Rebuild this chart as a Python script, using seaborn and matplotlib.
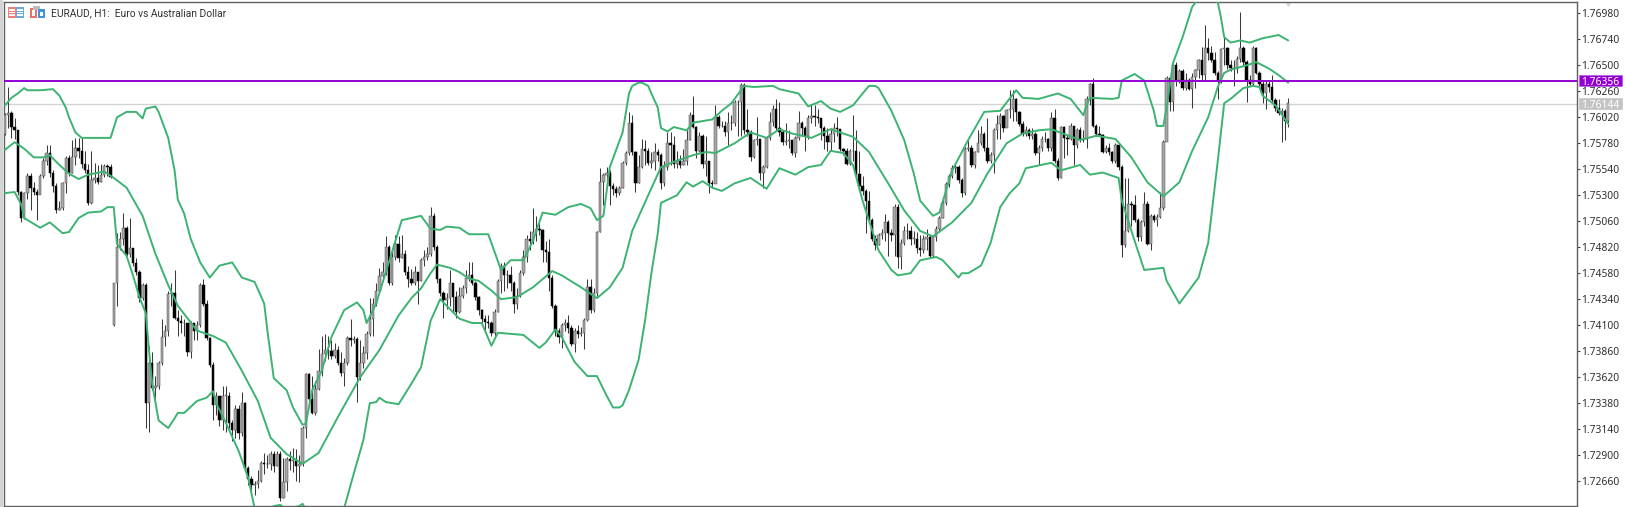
import matplotlib
matplotlib.use("Agg")
import matplotlib.pyplot as plt
from matplotlib.patches import Rectangle
from matplotlib.transforms import blended_transform_factory
import numpy as np
import pandas as pd
import seaborn as sns

# All price arrays are in 1e-4 above 1.70000 (e.g. 636 = 1.7636)
first_open = 587
gap_opens = {34: 410}

closes = [
604,606,593,590,533,509,532,548,537,533,530,548,562,569,551,539,516,518,541,564,
551,565,574,571,559,553,523,544,546,542,549,557,556,547,449,482,490,500,476,481,
467,459,435,447,338,375,352,354,375,399,405,439,440,417,414,412,412,385,412,405,
410,447,430,398,373,336,345,322,345,345,320,313,333,310,338,278,268,262,263,266,
283,282,282,291,280,291,250,265,286,285,285,280,282,315,365,342,329,351,368,383,
387,386,382,387,375,366,375,398,396,397,362,375,384,402,416,430,442,455,459,482,
449,473,485,472,476,459,453,449,459,451,470,473,476,511,482,453,440,433,435,449,
436,422,437,444,454,456,449,436,424,416,413,412,403,422,451,465,456,456,449,430,
437,458,473,490,488,496,499,498,479,478,454,428,405,399,410,412,407,393,405,402,
403,415,445,424,440,496,542,549,551,539,536,532,537,560,569,597,570,541,556,573,
571,560,562,570,567,541,556,578,576,559,562,558,562,581,604,593,571,585,559,562,
541,540,602,594,594,588,597,597,616,616,632,590,588,565,581,582,551,556,583,598,
610,592,588,579,580,581,569,583,597,592,585,601,603,602,601,592,585,579,587,592,
591,573,571,559,571,571,550,539,534,525,507,490,484,493,495,505,495,493,519,473,
486,497,497,490,490,481,479,490,491,474,491,499,509,523,540,548,555,556,544,532,
573,574,558,570,578,587,574,562,567,590,596,603,592,609,610,619,607,596,587,590,
585,587,569,574,582,582,574,601,562,546,593,583,582,594,576,590,581,582,619,633,
594,587,586,570,574,570,562,576,556,484,497,522,521,507,491,505,522,485,511,507,
510,518,579,638,616,650,636,645,629,636,628,639,646,655,641,666,661,655,643,636,
665,666,650,648,647,656,666,653,636,633,666,643,633,624,633,630,618,611,606,608,
599,615]

highs = [
606,630,608,601,590,534,533,551,551,542,536,550,564,576,576,553,541,525,542,566,
567,581,583,583,583,571,559,571,560,558,559,559,559,559,449,495,496,514,502,509,
481,472,461,449,449,391,385,363,377,416,410,442,449,461,424,419,416,412,414,412,
414,449,453,433,399,376,348,345,354,354,348,322,336,336,348,339,280,271,266,276,
285,292,290,294,294,294,294,287,288,294,297,296,290,317,366,366,363,358,388,400,
402,400,396,394,391,385,380,400,416,400,399,396,391,405,435,435,449,463,468,492,
484,479,493,492,493,479,465,462,465,459,472,479,482,519,514,484,454,442,440,461,
449,442,445,447,461,468,468,451,437,425,419,419,414,425,453,467,468,461,465,451,
444,461,479,493,497,518,511,505,499,488,490,456,430,407,412,416,419,410,407,410,
408,417,453,453,444,497,555,551,556,553,541,539,539,562,571,607,604,571,567,582,
581,574,570,578,573,569,562,588,588,585,571,567,573,590,607,622,594,588,587,585,
562,544,613,604,599,599,607,604,618,618,634,634,610,590,582,602,582,558,585,607,
613,619,616,590,597,590,581,585,608,599,594,604,613,613,610,601,594,592,592,597,
602,590,574,574,573,604,590,571,548,536,534,509,493,495,499,513,507,499,522,522,
490,502,504,502,497,496,493,493,499,493,493,502,511,527,542,550,558,559,558,546,
575,581,576,571,590,594,588,601,570,592,604,606,604,610,627,627,620,608,599,594,
592,592,588,576,585,588,583,607,610,564,594,594,587,597,594,592,593,590,622,634,
638,596,594,587,576,578,571,578,578,558,546,546,525,530,509,507,533,525,513,513,
513,533,581,640,638,652,653,647,647,643,638,643,647,656,667,687,675,668,662,645,
666,678,667,655,655,659,699,668,655,641,668,667,645,636,636,636,641,620,619,611,
610,620]

lows = [
586,592,583,582,530,505,508,527,516,530,507,534,546,558,547,533,514,516,516,532,
548,551,558,564,555,551,521,522,541,540,542,547,548,546,409,428,479,484,474,473,
465,456,431,433,315,311,350,342,351,373,391,400,428,416,400,403,400,382,380,396,
396,408,428,396,371,322,327,317,313,311,315,303,306,305,308,276,262,257,253,260,
265,273,278,276,274,280,248,250,257,276,274,266,265,280,306,340,328,327,350,363,
377,379,379,380,373,363,354,373,391,394,339,359,370,379,400,400,428,442,451,456,
447,447,470,468,472,456,445,447,447,430,451,465,470,474,479,449,437,417,425,428,
422,417,421,435,440,451,447,433,419,410,403,407,400,400,422,440,442,444,442,421,
425,436,456,468,479,485,488,493,468,468,442,426,400,394,389,405,403,391,385,398,
400,388,414,421,422,437,496,521,537,521,530,528,530,537,558,567,567,533,541,555,
558,558,555,553,562,536,539,553,558,555,555,555,558,558,581,592,564,570,555,548,
532,537,541,592,593,585,576,590,594,585,585,587,585,562,564,576,544,537,555,581,
594,590,585,576,576,574,567,565,581,585,571,582,597,594,597,581,573,571,571,579,
585,571,567,558,558,562,546,537,530,495,505,488,479,484,490,488,474,488,474,463,
462,484,490,484,485,477,474,477,479,473,473,488,497,509,521,538,546,551,541,528,
530,571,556,555,570,576,571,560,560,551,582,582,588,594,601,599,599,594,585,585,
582,582,567,558,571,579,571,571,560,544,546,564,567,581,558,574,579,579,574,613,
593,585,585,569,569,567,560,560,553,473,482,496,502,505,488,488,502,484,479,505,
502,509,516,581,608,608,631,634,627,627,627,611,629,638,636,636,655,653,641,619,
634,650,647,645,631,643,653,650,616,631,631,642,629,615,610,625,616,608,604,579,
581,593]

upper_bars = [0,2,4,6,7,11,15,17,19,20,22,24,33,35,38,41,43,44,47,48,51,53,54,56,58,61,64,67,71,74,78,81,82,84,88,90,93,94,96,99,102,106,110,112,113,116,122,124,130,133,136,138,142,145,151,152,155,158,162,165,168,172,176,180,183,185,187,189,193,195,196,198,199,201,202,204,205,207,209,213,215,221,224,227,231,234,240,242,248,251,255,258,261,265,268,270,272,273,277,281,284,286,290,292,296,301,306,311,316,318,323,329,333,337,338,339,346,348,349,353,356,359,360,362,363,365,368,371,375,379,380,381,383,386,389,393,398,401]
upper_vals = [613,620,624,629,627,627,628,622,611,602,588,583,583,602,607,607,601,610,612,607,583,553,526,513,490,468,454,465,468,454,450,430,405,361,350,334,318,319,350,368,399,424,431,424,412,430,488,507,511,499,498,501,500,494,494,486,461,470,470,488,514,512,519,522,518,507,511,556,588,624,631,634,634,631,624,611,592,589,593,590,597,600,608,615,631,630,631,628,624,612,617,610,607,613,624,631,631,629,608,581,550,525,511,514,553,581,607,608,627,620,619,624,619,604,613,620,619,620,636,642,636,608,594,594,611,652,676,704,720,708,694,676,671,673,671,675,678,673]

mid_bars = [0,3,6,9,12,14,17,20,23,26,31,34,38,43,47,51,54,60,65,69,74,79,83,88,93,98,104,111,117,123,127,130,133,135,139,142,145,148,152,155,160,165,171,174,180,185,189,193,196,201,205,210,215,219,222,228,233,238,242,246,252,255,258,265,270,276,281,286,290,296,302,307,313,318,323,327,336,341,347,352,357,362,367,371,376,379,381,383,388,391,395,398,401]
mid_vals = [572,579,573,565,565,567,558,550,545,549,552,546,537,511,476,447,428,405,400,394,368,340,306,291,282,292,325,362,387,419,435,444,458,466,463,459,453,451,442,434,436,445,460,456,445,435,445,463,497,530,556,562,567,570,569,578,588,583,591,587,583,587,591,584,570,541,516,497,492,505,523,550,578,587,590,591,581,585,582,565,542,529,542,571,602,630,643,646,650,653,647,641,634]

lower_bars = [0,3,5,6,11,14,18,20,23,26,30,32,34,35,38,40,42,44,45,46,48,51,53,54,56,60,63,65,66,69,73,76,78,80,84,86,88,92,93,94,100,106,109,112,114,116,117,119,123,127,130,133,136,139,142,146,149,152,154,162,167,169,172,174,178,182,185,188,190,192,193,195,198,200,202,204,205,210,213,215,218,221,224,228,233,238,242,247,251,255,258,262,265,268,273,277,279,283,286,291,293,298,299,301,305,308,311,314,317,319,327,330,336,339,343,348,349,353,356,362,363,367,373,376,379,381,383,387,390,392,393,397,401]
lower_vals = [532,533,522,509,500,505,495,496,509,514,515,519,519,485,474,456,436,421,387,356,322,315,324,329,329,340,343,349,338,320,294,269,241,230,243,244,240,243,245,240,225,241,273,304,338,339,343,339,337,356,371,414,434,425,416,412,412,391,403,401,389,394,406,399,376,363,363,345,334,334,336,350,378,414,458,495,523,530,542,538,543,537,534,541,546,536,555,549,556,558,571,569,558,525,479,461,456,458,470,473,470,454,458,458,465,486,519,532,541,555,560,553,558,549,551,546,525,488,461,463,451,430,454,486,562,615,619,629,631,630,622,613,596]

tick_prices = [1.76980,1.76740,1.76500,1.76260,1.76020,1.75780,1.75540,1.75300,1.75060,1.74820,1.74580,1.74340,1.74100,1.73860,1.73620,1.73380,1.73140,1.72900,1.72660]
level_purple = 1.76356
level_gray = 1.76144
title = "EURAUD, H1:  Euro vs Australian Dollar"

def price(p):
    return 1.7 + np.asarray(p, dtype=float) / 1e4

sns.set_theme(style="white")
plt.rcParams['font.family'] = ['Noto Sans', 'DejaVu Sans']

W, H = 1626, 507
fig = plt.figure(figsize=(W/100, H/100), dpi=100, facecolor="white")
ax = fig.add_axes([4/W, 1-506/H, (1577-4)/W, (506-2)/H])

n = len(closes)
bars = np.arange(n)
c = price(closes); hi = price(highs); lo = price(lows)
opens_pts = [first_open] + list(closes[:n-1])
for k, v in gap_opens.items():
    opens_pts[k] = v
o = price(opens_pts)
up = c >= o

ax.vlines(bars, lo, hi, color="#3a3a3a", lw=0.75, zorder=2)
ax.bar(bars[up], np.maximum(c[up]-o[up], 1e-5), bottom=o[up], width=0.8,
       facecolor="#a8a8a8", edgecolor="#4a4a4a", linewidth=0.35, zorder=3)
ax.bar(bars[~up], (o-c)[~up], bottom=c[~up], width=0.8,
       facecolor="black", edgecolor="black", linewidth=0.35, zorder=3)

bands = pd.concat([
    pd.DataFrame({"bar": upper_bars, "price": price(upper_vals), "band": "upper"}),
    pd.DataFrame({"bar": mid_bars, "price": price(mid_vals), "band": "middle"}),
    pd.DataFrame({"bar": lower_bars, "price": price(lower_vals), "band": "lower"}),
])
sns.lineplot(data=bands, x="bar", y="price", hue="band", units="band", estimator=None, sort=False,
             palette={"upper": "#3CB371", "middle": "#3CB371", "lower": "#3CB371"},
             lw=1.4, legend=False, ax=ax, zorder=4, solid_joinstyle="round")

ax.axhline(level_gray, color="#d3d3d3", lw=1.0, zorder=1)
ax.axhline(level_purple, color="#9400D3", lw=1.4, zorder=5)

ax.set_xlim(-0.31, 491.25)
ax.set_ylim(1.7243, 1.77085)
ax.set_xlabel(""); ax.set_ylabel("")
ax.set_xticks([])
ax.yaxis.tick_right()
ax.set_yticks(tick_prices)
ax.set_yticklabels([f"{t:.5f}" for t in tick_prices])
ax.tick_params(axis="y", direction="out", length=2.2, width=0.8, color="#404040",
               labelsize=7.4, labelcolor="#303030", pad=0.7, right=True)
for s in ax.spines.values():
    s.set_color("#606060"); s.set_linewidth(1.0); s.set_visible(True)

# current-price tags on the axis
tr = blended_transform_factory(ax.transAxes, ax.transData)
tag_w = 43 / 1573
tag_h = 0.00102
tag_x = 1.0013
for lvl, col, edge in [(level_purple, "#9400D3", "#b060e0"), (level_gray, "#c4c4c4", "#c4c4c4")]:
    ax.add_patch(Rectangle((tag_x, lvl - tag_h/2), tag_w, tag_h, transform=tr, clip_on=False,
                           facecolor=col, edgecolor=edge, lw=0.5, zorder=6))
    ax.text(tag_x + tag_w/2, lvl, f"{lvl:.5f}", transform=tr, va="center_baseline", ha="center",
            fontsize=7.4, color="white", zorder=7, clip_on=False)

# shift marker at the top of the chart
ax.plot([401], [1.77085], marker="v", ms=6, color="#d8d8d8", clip_on=True, zorder=1)

# window furniture
def px_rect(x, y, w, h, col):
    fig.add_artist(Rectangle((x/W, 1-(y+h)/H), w/W, h/H, transform=fig.transFigure,
                             facecolor=col, edgecolor="none", zorder=10))

px_rect(0, 0, 3, H, "#d4d4d4")
# first toolbar icon
px_rect(8, 7, 8, 11, "#f07f7a"); px_rect(16, 7, 8, 11, "#6aa9de")
for yy in (9.5, 12, 14.5):
    px_rect(9, yy, 6, 1.2, "white"); px_rect(17, yy, 6, 1.2, "white")
# second toolbar icon
px_rect(30, 8, 7, 10, "#ee6f68"); px_rect(32, 10, 3, 6, "white")
px_rect(33, 6, 7, 4, "#bdbdbd")
px_rect(38, 9, 7, 9, "#3f95d8"); px_rect(40, 12, 3, 4, "white")
fig.text(51/W, 1-13.5/H, title, fontsize=7.4, family="Roboto", color="#303030",
         va="center", ha="left", zorder=11)

fig.savefig("out.png", dpi=100)
